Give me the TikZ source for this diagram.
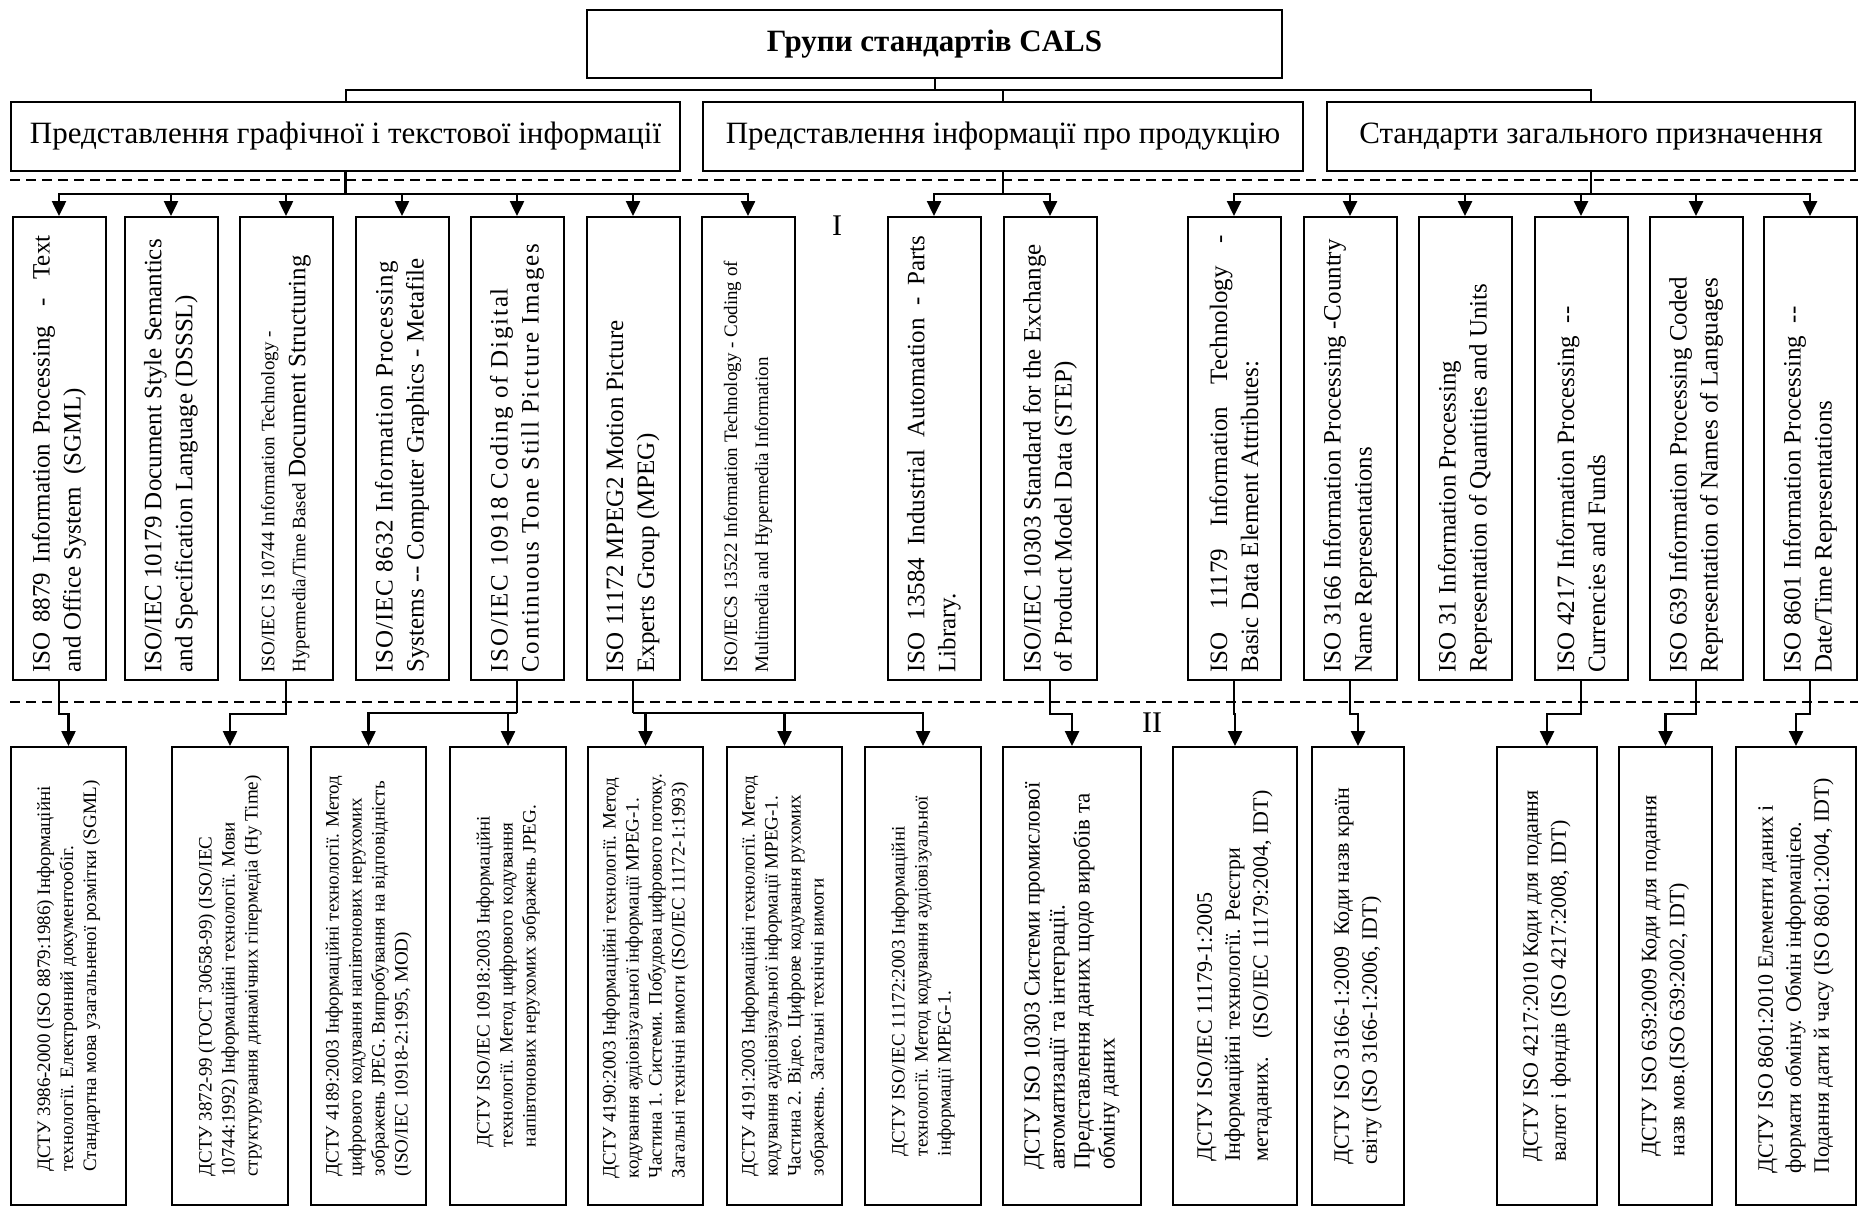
\documentclass[tikz,border=0pt]{standalone}
\usepackage{fontspec}
\setmainfont{Liberation Serif}
\usetikzlibrary{arrows.meta}
\newcommand{\fullline}[1]{\makebox[437pt][s]{#1}}

\begin{document}
\begin{tikzpicture}[x=1pt,y=-1pt,
  topbox/.style={draw,line width=2pt,minimum width=695pt,minimum height=68pt,font=\fontsize{31}{35}\selectfont\bfseries},
  grpbox/.style={draw,line width=1.6pt,minimum height=69pt,font=\fontsize{31}{35}\selectfont},
  isobox/.style={draw,line width=2pt,rotate=90,minimum width=463pt,minimum height=93pt,text width=448pt,inner xsep=7.5pt,align=flush left,font=\fontsize{25}{31}\selectfont},
  dstubox/.style={draw,line width=2pt,rotate=90,minimum width=458pt,minimum height=#1,align=left,font=\fontsize{19}{23}\selectfont},
  bigdstu/.style={font=\fontsize{22}{28}\selectfont},
  link/.style={line width=2.5pt},
  arr/.style={line width=2.5pt,-{Triangle[length=15pt,width=14pt]}},
  sep/.style={line width=1.5pt,dash pattern=on 10pt off 6pt}]
\path[use as bounding box,fill=white] (0,0) rectangle (1858,1210);

\node[topbox] (cals) at (934.5,44) {Групи стандартів CALS};
\node[grpbox,minimum width=669pt] (A) at (345.5,136.5) {Представлення графічної і текстової інформації};
\node[grpbox,minimum width=600pt] (B) at (1003,136.5) {Представлення інформації про продукцію};
\node[grpbox,minimum width=528pt] (C) at (1591,136.5) {Стандарти загального призначення};

\draw[sep] (10,180) -- (1858,180);
\draw[sep] (10,702) -- (1858,702);

\node[isobox] (t1) at (59,448.5) {\fullline{ISO 8879 Information Processing \ - \ Text}\\and Office System \ (SGML)};
\node[isobox] (t2) at (171,448.5) {ISO/IEC 10179 Document Style Semantics\\and Specification Language (DSSSL)};
\node[isobox] (t3) at (286,448.5) {\fontsize{19}{25}\selectfont ISO/IEC IS 10744 Information Technology -\\Hypermedia/Time Based {\fontsize{25}{31}\selectfont Document Structuring}};
\node[isobox] (t4) at (402,448.5) {{\addfontfeature{LetterSpace=3.5}ISO/IEC 8632 Information Processing}\\Systems -{}- Computer Graphics - Metafile};
\node[isobox] (t5) at (517,448.5) {\addfontfeature{LetterSpace=7}ISO/IEC 10918 Coding of Digital\\Continuous Tone Still Picture Images};
\node[isobox] (t6) at (633,448.5) {ISO 11172 MPEG2 Motion Picture\\Experts Group (MPEG)};
\node[isobox] (t7) at (748,448.5) {\fontsize{19}{25}\selectfont ISO/IECS 13522 Information Technology - Coding of\\Multimedia and Hypermedia Information};
\node[isobox] (t8) at (934,448.5) {\fullline{ISO 13584 Industrial Automation - Parts}\\Library.};
\node[isobox] (t9) at (1050,448.5) {ISO/IEC 10303 Standard for the Exchange\\of Product Model Data (STEP)};
\node[isobox] (t10) at (1234,448.5) {\fullline{ISO 11179 Information Technology -}\\Basic Data Element Attributes:};
\node[isobox] (t11) at (1350,448.5) {ISO 3166 Information Processing -Country\\Name Representations};
\node[isobox] (t12) at (1465,448.5) {ISO 31 Information Processing\\Representation of Quantities and Units};
\node[isobox] (t13) at (1581,448.5) {ISO 4217 Information Processing \ -{}-\\Currencies and Funds};
\node[isobox] (t14) at (1696,448.5) {ISO 639 Information Processing Coded\\Representation of Names of Languages};
\node[isobox] (t15) at (1810,448.5) {ISO 8601 Information Processing \ -{}-\\Date/Time Representations};

\node[font=\fontsize{30}{34}\selectfont] (lvl1) at (837,226) {I};
\node[font=\fontsize{30}{34}\selectfont] (lvl2) at (1152,723) {II};

\node[dstubox=115pt] (d1) at (68.5,976) {ДСТУ 3986-2000 (ISO 8879:1986) Інформаційні\\технології. Електронний документообіг.\\Стандартна мова узагальненої розмітки (SGML)};
\node[dstubox=116pt] (d2) at (230,976) {ДСТУ 3872-99 (ГОСТ 30658-99) (ISO/IEC\\10744:1992) Інформаційні технології. Мови\\структурування динамічних гіпермедіа (Hy Time)};
\node[dstubox=115pt] (d3) at (368.5,976) {ДСТУ 4189:2003 Інформаційні технології. Метод\\цифрового кодування напівтонових нерухомих\\зображень JPEG. Випробування на відповідність\\(ISO/IEC 10918-2:1995, MOD)};
\node[dstubox=116pt] (d4) at (508,976) {ДСТУ ISO/IEC 10918:2003 Інформаційні\\технології. Метод цифрового кодування\\напівтонових нерухомих зображень JPEG.};
\node[dstubox=115pt] (d5) at (645.5,976) {ДСТУ 4190:2003 Інформаційні технології. Метод\\кодування аудіовізуальної інформації MPEG-1.\\Частина 1. Системи. Побудова цифрового потоку.\\Загальні технічні вимоги (ISO/IEC 11172-1:1993)};
\node[dstubox=115pt] (d6) at (784.5,976) {ДСТУ 4191:2003 Інформаційні технології. Метод\\кодування аудіовізуальної інформації MPEG-1.\\Частина 2. Відео. Цифрове кодування рухомих\\зображень. Загальні технічні вимоги};
\node[dstubox=116pt] (d7) at (923,976) {ДСТУ ISO/IEC 11172:2003 Інформаційні\\технології. Метод кодування аудіовізуальної\\інформації MPEG-1.};
\node[dstubox=138pt,font=\fontsize{23}{25}\selectfont] (d8) at (1072,976) {ДСТУ ISO 10303 Системи промислової\\автоматизації та інтеграції.\\Представлення даних щодо виробів та\\обміну даних};
\node[dstubox=124pt,bigdstu] (d9) at (1235,976) {ДСТУ ISO/IEC 11179-1:2005\\Інформаційні технології. Реєстри\\метаданих. \ \ (ISO/IEC 11179:2004, IDT)};
\node[dstubox=92pt,bigdstu] (d10) at (1358,976) {ДСТУ ISO 3166-1:2009 \ Коди назв країн\\світу (ISO 3166-1:2006, IDT)};
\node[dstubox=100pt,bigdstu] (d11) at (1547,976) {ДСТУ ISO 4217:2010 Коди для подання\\валют і фондів (ISO 4217:2008, IDT)};
\node[dstubox=93pt,bigdstu] (d12) at (1665.5,976) {ДСТУ ISO 639:2009 Коди для подання\\назв мов.(ISO 639:2002, IDT)};
\node[dstubox=120pt,bigdstu] (d13) at (1796,976) {ДСТУ ISO 8601:2010 Елементи даних і\\формати обміну. Обмін інформацією.\\Подання дати й часу (ISO 8601:2004, IDT)};

\draw[link,line width=2pt] (cals.south) -- ++(0,11) coordinate (j0);
\foreach \g in {A,B,C} \draw[link,line width=2pt] (j0) -| (\g.north);

\draw[link] (A.south) -- ++(0,22) coordinate (jA);
\foreach \i in {1,...,7} \draw[arr] (jA) -| (t\i.east);
\draw[link] (B.south) -- ++(0,22) coordinate (jB);
\foreach \i in {8,9} \draw[arr] (jB) -| (t\i.east);
\draw[link] (C.south) -- ++(0,22) coordinate (jC);
\foreach \i in {10,...,15} \draw[arr] (jC) -| (t\i.east);

\draw[arr] (t1.west) -- ++(0,33) -| (d1.east);
\draw[arr] (t3.west) -- ++(0,33) -| (d2.east);
\draw[link] (t5.west) -- ++(0,32) coordinate (j5);
\draw[arr] (j5) -| (d3.east);
\draw[arr] (j5) -| (d4.east);
\draw[link] (t6.west) -- ++(0,32) coordinate (j6);
\foreach \d in {d5,d6,d7} \draw[arr] (j6) -| (\d.east);
\draw[arr] (t9.west) -- ++(0,33) -| (d8.east);
\draw[arr] (t10.west) -- ++(0,33) -| (d9.east);
\draw[arr] (t11.west) -- ++(0,33) -| (d10.east);
\draw[arr] (t13.west) -- ++(0,33) -| (d11.east);
\draw[arr] (t14.west) -- ++(0,33) -| (d12.east);
\draw[arr] (t15.west) -- ++(0,33) -| (d13.east);
\end{tikzpicture}
\end{document}
